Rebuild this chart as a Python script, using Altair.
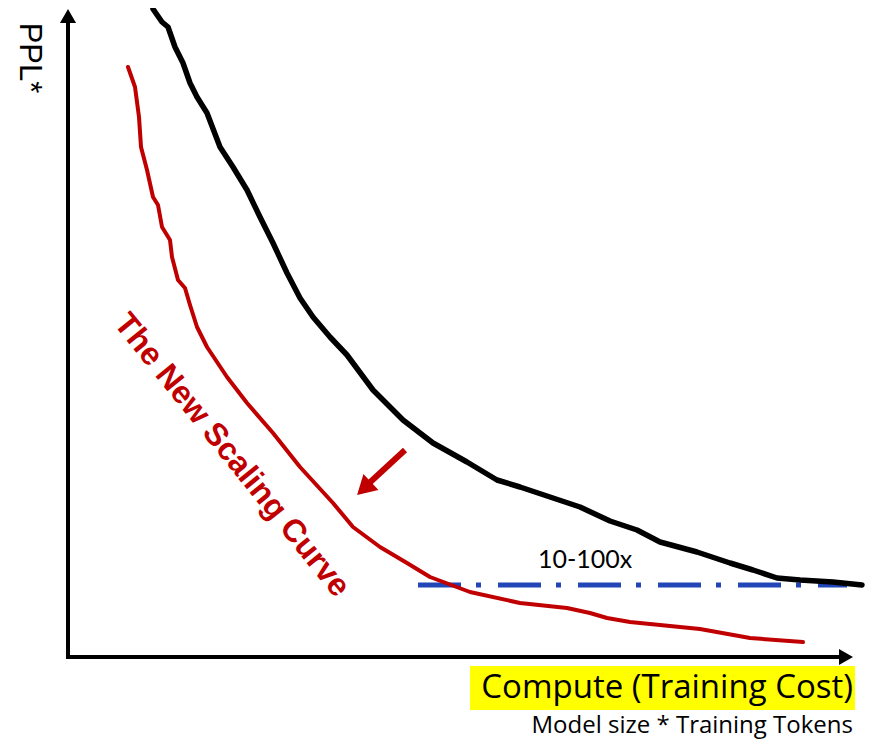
import altair as alt
import pandas as pd

# ---- values (compute units, PPL units; origin at axis corner)
compute_black = [85, 94, 100, 107, 115, 122, 129, 139, 152, 165, 179, 192, 205, 219, 232, 245,
                 262, 279, 305, 335, 365, 399, 429, 452, 485, 512, 542, 569, 592, 629, 662, 685,
                 709, 732, 765, 794]
ppl_black = [648, 635, 630, 610, 594, 574, 560, 544, 510, 490, 467, 440, 414, 384, 359, 340,
             320, 302, 267, 237, 214, 195, 177, 170, 159, 150, 136, 127, 115, 105, 94, 87,
             79, 77, 75, 72]

compute_red = [60, 67, 71, 73, 79, 85, 90, 94, 102, 104, 110, 117, 122, 129, 139, 159, 179,
               205, 232, 265, 285, 312, 339, 362, 402, 452, 499, 522, 539, 562, 612, 632, 682, 735]
ppl_red = [590, 570, 540, 510, 487, 460, 452, 430, 417, 400, 377, 369, 352, 330, 310, 280, 254,
           224, 190, 154, 130, 110, 94, 80, 65, 54, 49, 44, 39, 35, 30, 28, 19, 15]

gap_compute = [350, 779]
gap_ppl = [72, 72]

shift_compute = [337, 298]
shift_ppl = [207, 171]

# ---- scales
XS = alt.Scale(domain=[-60, 803], nice=False, zero=False)
YS = alt.Scale(domain=[-82, 649], nice=False, zero=False)


def enc(**extra):
    d = dict(x=alt.X("x:Q", scale=XS, axis=None), y=alt.Y("y:Q", scale=YS, axis=None))
    d.update(extra)
    return d


def frame(xs, ys):
    return pd.DataFrame({"x": xs, "y": ys, "i": list(range(len(xs)))})


black = alt.Chart(frame(compute_black, ppl_black)).mark_line(
    color="black", strokeWidth=5.5, strokeJoin="round", strokeCap="round"
).encode(**enc(order="i:Q"))

red = alt.Chart(frame(compute_red, ppl_red)).mark_line(
    color="#C00000", strokeWidth=4, strokeJoin="round", strokeCap="round"
).encode(**enc(order="i:Q"))

gap = alt.Chart(frame(gap_compute, gap_ppl)).mark_line(
    color="#2246B8", strokeWidth=5, strokeDash=[43, 15, 5, 17]
).encode(**enc(order="i:Q"))

# axes with arrows
axes_df = pd.DataFrame({"x": [0, 0], "y": [-2, 0], "x2": [0, 774], "y2": [634, 0]})
axes = alt.Chart(axes_df).mark_rule(color="black", strokeWidth=4).encode(
    x=alt.X("x:Q", scale=XS, axis=None), y=alt.Y("y:Q", scale=YS, axis=None),
    x2="x2:Q", y2="y2:Q")

yhead = alt.Chart(pd.DataFrame({"x": [0], "y": [641]})).mark_point(
    shape="triangle-up", filled=True, color="black", size=260, opacity=1).encode(**enc())
xhead = alt.Chart(pd.DataFrame({"x": [778], "y": [0]})).mark_point(
    shape="triangle-right", filled=True, color="black", size=260, opacity=1).encode(**enc())

# red shift arrow
shaft = alt.Chart(frame(shift_compute, shift_ppl)).mark_line(
    color="#C00000", strokeWidth=6).encode(**enc(order="i:Q"))
head = alt.Chart(pd.DataFrame({"x": [296], "y": [168.5]})).mark_point(
    shape="triangle-up", filled=True, color="#C00000", size=480, angle=227, opacity=1
).encode(**enc())

# highlight box behind x title
hl = alt.Chart(pd.DataFrame({"x": [402], "x2": [787], "y": [-9], "y2": [-53]})).mark_rect(
    color="#FFFF00").encode(x=alt.X("x:Q", scale=XS, axis=None), x2="x2:Q",
                           y=alt.Y("y:Q", scale=YS, axis=None), y2="y2:Q")


def label(txt, x, y, **kw):
    return alt.Chart(pd.DataFrame({"x": [x], "y": [y], "t": [txt]})).mark_text(**kw).encode(
        **enc(text="t:N"))


t_ppl = label("PPL*", -48, 599, angle=90, align="center", baseline="alphabetic",
              font="Liberation Sans", fontSize=31, color="black")
t_gap = label("10-100x", 517, 89, align="center", baseline="alphabetic",
              font="Lato", fontSize=25, color="black")
t_x = label("Compute (Training Cost)", 785, -41, align="right", baseline="alphabetic",
            font="Open Sans", fontSize=33, color="black")
t_x2 = label("Model size * Training Tokens", 785, -76, align="right", baseline="alphabetic",
             font="Open Sans", fontSize=24, color="black")
t_curve = label("The New Scaling Curve", 164, 202, angle=51, align="center", baseline="middle",
                font="Liberation Sans", fontSize=32, fontWeight="bold", color="#C00000")

chart = alt.layer(
    hl, axes, yhead, xhead, gap, red, black, shaft, head, t_ppl, t_gap, t_x, t_x2, t_curve
).properties(
    width=863, height=731, padding=0, background="white",
    autosize=alt.AutoSizeParams(type="none")
).configure_view(strokeWidth=0, stroke="transparent")

chart.save("out.html", embed_options={"renderer": "svg", "actions": False})
